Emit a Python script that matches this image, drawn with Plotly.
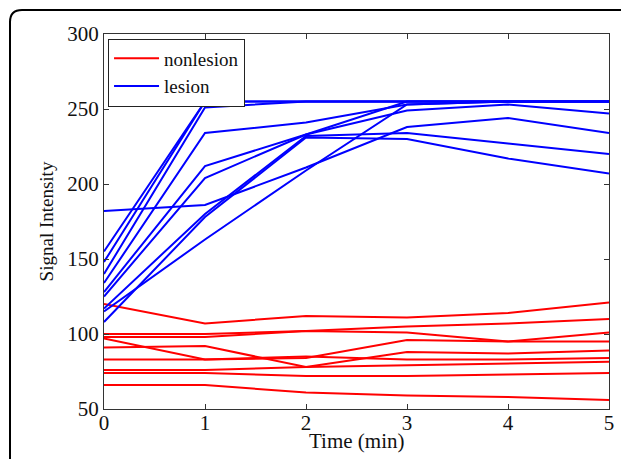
import plotly.graph_objects as go

time_min = [0, 1, 2, 3, 4, 5]

nonlesion = [
    [120, 107, 112, 111, 114, 121],
    [100, 100, 102, 105, 107, 110],
    [98, 98, 102, 101, 95, 101],
    [97, 83, 84, 96, 95, 95],
    [91, 92, 78, 88, 87, 89],
    [83, 83, 85, 83, 83, 84],
    [76, 76, 78, 79, 80, 81.5],
    [74, 74, 72, 72, 73, 74],
    [66, 66, 61, 59, 58, 56],
]

lesion = [
    [155, 255, 255, 255, 255, 255],
    [148, 255, 255, 255, 255, 255],
    [140, 251, 255, 255, 255, 255],
    [134, 234, 241, 253, 255, 255],
    [128, 212, 233, 255, 255, 255],
    [125, 204, 233, 249, 253, 247],
    [182, 186, 211, 238, 244, 234],
    [117, 180, 232, 234, 227, 220],
    [108, 178, 231, 230, 217, 207],
    [115, 163, 209, 253, 255, 255],
]

x_ticks = [0, 1, 2, 3, 4, 5]
y_ticks = [50, 100, 150, 200, 250, 300]
x_title = "Time (min)"
y_title = "Signal Intensity"

FONT = "Liberation Serif, Times New Roman, serif"

fig = go.Figure()
for i, ys in enumerate(nonlesion):
    fig.add_trace(go.Scatter(x=time_min, y=ys, mode="lines",
                             line=dict(color="#ff0000", width=2),
                             name="nonlesion", showlegend=(i == 0)))
for i, ys in enumerate(lesion):
    fig.add_trace(go.Scatter(x=time_min, y=ys, mode="lines",
                             line=dict(color="#0000ff", width=2),
                             name="lesion", showlegend=(i == 0)))

axis_common = dict(showline=True, linecolor="#333333", linewidth=1, mirror="allticks",
                   ticks="inside", ticklen=5, tickcolor="#333333", showgrid=False,
                   zeroline=False, automargin=False,
                   tickfont=dict(family=FONT, size=21, color="#111111"))

fig.update_xaxes(range=[0, 5], tickvals=x_ticks, ticklabelstandoff=-5, **axis_common)
fig.update_yaxes(range=[50, 300], tickvals=y_ticks,
                 title=dict(text=y_title, font=dict(family=FONT, size=19, color="#111111"), standoff=8),
                 **axis_common)

W, H = 621, 459
L, T, R, B = 104, 34, 12, 50
pw, ph = W - L - R, H - T - B

def px(x):
    return (x - L) / pw

def py(y):
    return (H - B - y) / ph

r = 12
path = (f"M {px(10)},{py(470)} L {px(10)},{py(10 + r)} "
        f"Q {px(10)},{py(10)} {px(10 + r)},{py(10)} L {px(630)},{py(10)}")

fig.update_layout(
    width=W, height=H,
    margin=dict(l=L, r=R, t=T, b=B, autoexpand=False),
    paper_bgcolor="white", plot_bgcolor="white",
    font=dict(family=FONT, color="#111111"),
    showlegend=True,
    legend=dict(x=0.008, y=0.988, xanchor="left", yanchor="top",
                bgcolor="white", bordercolor="#222222", borderwidth=1,
                font=dict(family=FONT, size=19, color="#111111"),
                tracegroupgap=0, itemwidth=45),
    shapes=[dict(type="path", xref="paper", yref="paper", path=path,
                 fillcolor="rgba(0,0,0,0)",
                 line=dict(color="black", width=2))],
    annotations=[dict(text=x_title, xref="paper", yref="paper", x=0.5, y=py(441),
                      xanchor="center", yanchor="middle", showarrow=False,
                      font=dict(family=FONT, size=21, color="#111111"))],
)

fig.write_html("out.html", config={"displayModeBar": False},
               post_script="document.body.style.margin='0';document.body.style.overflow='hidden';")
